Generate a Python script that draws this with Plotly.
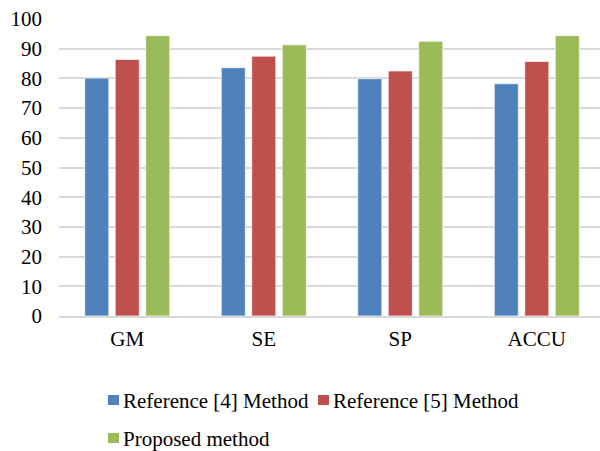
import plotly.graph_objects as go

# Metric categories and method scores (%)
categories = ["GM", "SE", "SP", "ACCU"]
ref4_method = [80.1, 83.6, 79.9, 78.2]
ref5_method = [86.4, 87.5, 82.5, 85.7]
proposed_method = [94.4, 91.3, 92.5, 94.4]

series_names = ["Reference [4] Method", "Reference [5] Method", "Proposed method"]
series_values = [ref4_method, ref5_method, proposed_method]
series_colors = ["#4F81BD", "#C0504D", "#9BBB59"]

y_ticks = list(range(0, 101, 10))

W, H = 600, 451
ML, MR, MT, MB = 59, 0, 19, 135
PW, PH = W - ML - MR, H - MT - MB

FONT = "Liberation Serif"


def px_x(x):
    return (x - ML) / PW


def px_y(y):
    return (H - MB - y) / PH


fig = go.Figure()
for name, vals, color in zip(series_names, series_values, series_colors):
    fig.add_trace(go.Bar(
        x=categories, y=vals, name=name,
        marker=dict(color=color, line=dict(color="rgba(255,255,255,0.7)", width=1)),
        showlegend=False,
    ))

# Legend drawn as swatches + labels beneath the plot
legend_rows = [(0, 0), (0, 1), (1, 0)]
swatch_left = [108, 318]
row_center = [400, 438]
shapes, annotations = [], []
for (row, col), name, color in zip(legend_rows, series_names, series_colors):
    x0 = swatch_left[col]
    yc = row_center[row]
    shapes.append(dict(type="rect", xref="paper", yref="paper",
                       x0=px_x(x0), x1=px_x(x0 + 11),
                       y0=px_y(yc - 5), y1=px_y(yc + 5),
                       fillcolor=color, line=dict(width=0)))
    annotations.append(dict(xref="paper", yref="paper", x=px_x(x0 + 13), y=px_y(yc + 1),
                            xanchor="left", yanchor="middle", showarrow=False,
                            text=name, font=dict(family=FONT, size=21, color="black")))

fig.update_layout(
    width=W, height=H,
    margin=dict(l=ML, r=MR, t=MT, b=MB, pad=0),
    paper_bgcolor="white", plot_bgcolor="white",
    barmode="group", bargap=0.33, bargroupgap=0.21,
    font=dict(family=FONT, size=21, color="black"),
    shapes=shapes, annotations=annotations,
    xaxis=dict(type="category", range=[-0.5, 3.463], showgrid=False,
               showline=True, linecolor="#D9D9D9", linewidth=2,
               ticks="", ticklabelstandoff=3,
               tickfont=dict(family=FONT, size=21, color="black")),
    yaxis=dict(range=[0, 100], tickvals=y_ticks, showgrid=True,
               gridcolor="#D9D9D9", gridwidth=2, zeroline=False,
               showline=False, ticks="", ticklabelstandoff=16,
               tickfont=dict(family=FONT, size=21, color="black")),
)

fig.write_html("out.html")
